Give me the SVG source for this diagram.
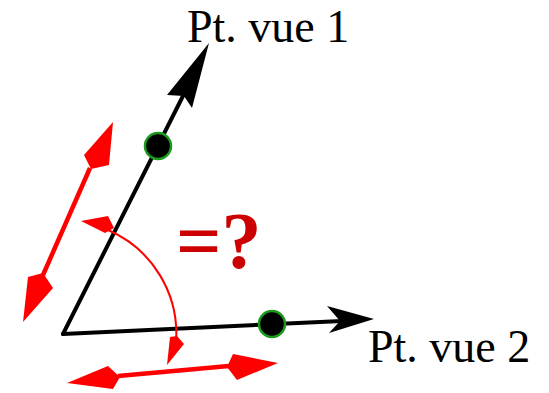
<svg xmlns="http://www.w3.org/2000/svg" width="549" height="393" viewBox="0 0 549 393">
<style>
.axis{stroke:#000;stroke-width:4;fill:none;stroke-linecap:round}
.ah{fill:#000}
.dot{fill:#000;stroke:#1a9a1a;stroke-width:2.5}
.red{stroke:#ff0000;fill:none}
.rh{fill:#ff0000}
.lbl{font-family:"Liberation Serif","Times New Roman",serif;font-size:46px;fill:#000}
.q{font-family:"Liberation Serif","Times New Roman",serif;font-size:80px;font-weight:bold;fill:#cc0000}
</style>
<rect width="549" height="393" fill="#fff"/>
<g id="connectors">
<line class="axis" x1="63" y1="334" x2="186" y2="90"/>
<polygon class="ah" points="209,43 192,108 184,96 167,95"/>
<line class="axis" x1="63" y1="334" x2="342" y2="321"/>
<polygon class="ah" points="374,319 329,333 340,321 327,306"/>
</g>
<g id="dot1"><circle class="dot" cx="158" cy="146" r="13"/></g>
<g id="dot2"><circle class="dot" cx="272" cy="324" r="13"/></g>
<g id="double-arrow-1">
<line class="red" stroke-width="4.5" x1="90" y1="168" x2="43" y2="275"/>
<polygon class="rh" points="113,122 109,165 91,169 84,155"/>
<polygon class="rh" points="23,322 28,277 43,273 53,288"/>
</g>
<g id="double-arrow-2">
<line class="red" stroke-width="4.5" x1="118" y1="376" x2="229" y2="366"/>
<polygon class="rh" points="67,383 108,366 120,377 113,389"/>
<polygon class="rh" points="278,363 233,354 227,367 237,380"/>
</g>
<g id="angle-arc">
<path class="red" stroke-width="2" d="M108,230 A113,113 0 0 1 176,342"/>
<polygon class="rh" points="81,221 108,216 114,228 105,233"/>
<polygon class="rh" points="167,365 170,337 177,336 184,344"/>
</g>
<g id="label-q"><text class="q" x="176" y="268">=?</text></g>
<g id="label-1"><text class="lbl" x="187" y="42">Pt. vue 1</text></g>
<g id="label-2"><text class="lbl" x="368" y="362">Pt. vue 2</text></g>
</svg>
